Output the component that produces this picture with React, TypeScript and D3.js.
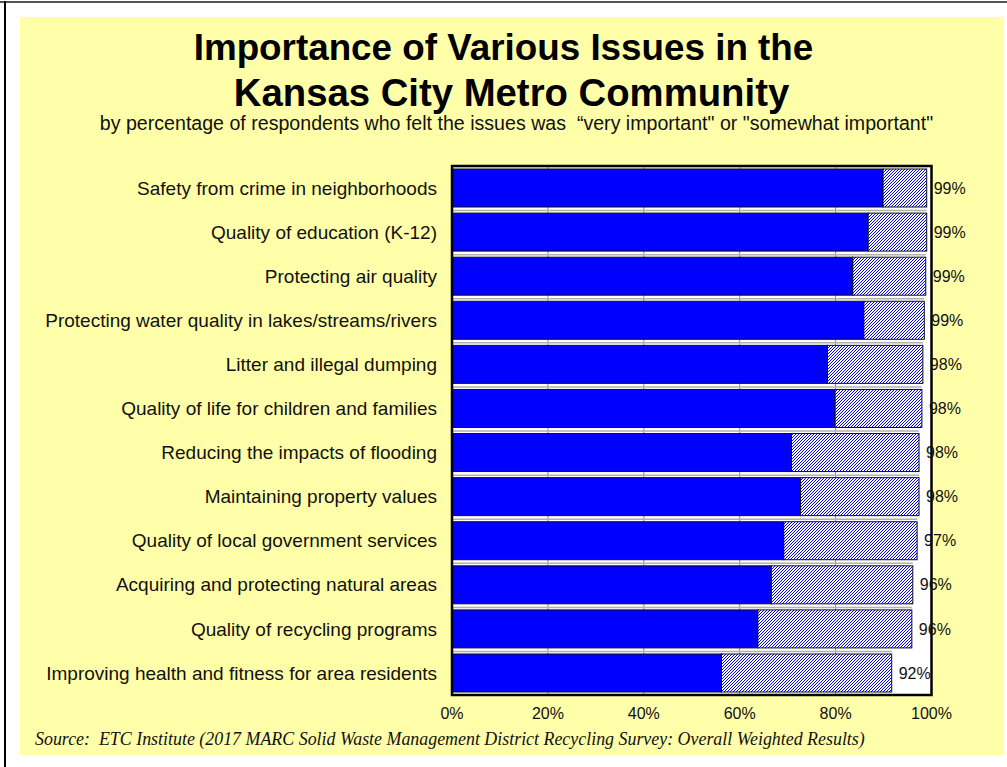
import React from "react";
import * as d3 from "d3";

const categories = [
  "Safety from crime in neighborhoods",
  "Quality of education (K-12)",
  "Protecting air quality",
  "Protecting water quality in lakes/streams/rivers",
  "Litter and illegal dumping",
  "Quality of life for children and families",
  "Reducing the impacts of flooding",
  "Maintaining property values",
  "Quality of local government services",
  "Acquiring and protecting natural areas",
  "Quality of recycling programs",
  "Improving health and fitness for area residents",
];
const veryImportant = [89.9, 86.8, 83.6, 85.9, 78.3, 79.9, 70.8, 72.7, 69.2, 66.6, 63.8, 56.2];
const somewhatImportant = [9.1, 12.2, 15.2, 12.6, 19.9, 18.1, 26.6, 24.7, 27.8, 29.5, 32.1, 35.5];
const totalLabels = [99, 99, 99, 99, 98, 98, 98, 98, 97, 96, 96, 92];
const xTicks = [0, 20, 40, 60, 80, 100];

const W = 1007;
const H = 767;
const plot = { left: 452, right: 931.5, top: 166, bottom: 695 };

export default function App() {
  const x = d3.scaleLinear().domain([0, 100]).range([plot.left, plot.right]);
  const y = d3
    .scaleBand<string>()
    .domain(categories)
    .range([plot.top, plot.bottom])
    .paddingInner(0.138)
    .paddingOuter(0.068);
  const bw = y.bandwidth();
  const font = "Arial, 'Liberation Sans', sans-serif";

  return (
    <svg
      width={W}
      height={H}
      style={{ position: "absolute", left: 0, top: 0, background: "#fff" }}
      fontFamily={font}
    >
      <defs>
        <pattern id="hatch" patternUnits="userSpaceOnUse" width={3} height={3}>
          <rect width={3} height={3} fill="#fff" />
          <g fill="#0000ff" shapeRendering="crispEdges">
            <rect x={0} y={2} width={1} height={1} />
            <rect x={1} y={1} width={1} height={1} />
            <rect x={2} y={0} width={1} height={1} />
          </g>
        </pattern>
      </defs>
      {/* outer frame */}
      <line x1={0} x2={W} y1={2} y2={2} stroke="#555" strokeWidth={2} />
      <line x1={5} x2={5} y1={1} y2={H} stroke="#000" strokeWidth={2} />
      {/* yellow panel */}
      <rect x={20} y={17} width={984} height={738} fill="#ffffaa" />

      {/* titles */}
      <text x={503.5} y={60} textAnchor="middle" fontWeight="bold" fontSize={36.8} fill="#000">
        Importance of Various Issues in the
      </text>
      <text x={511.5} y={106} textAnchor="middle" fontWeight="bold" fontSize={38.3} fill="#000">
        Kansas City Metro Community
      </text>
      <text x={516.5} y={130} textAnchor="middle" fontSize={19.6} fill="#111" style={{ whiteSpace: "pre" }}>
        {"by percentage of respondents who felt the issues was  \u201Cvery important\" or \"somewhat important\""}
      </text>

      {/* plot background */}
      <rect x={plot.left} y={plot.top} width={plot.right - plot.left} height={plot.bottom - plot.top} fill="#fff" />

      {/* gridlines */}
      {xTicks
        .filter((t) => t > 0 && t < 100)
        .map((t) => (
          <line key={t} x1={x(t)} x2={x(t)} y1={plot.top} y2={plot.bottom} stroke="#888" strokeWidth={1} />
        ))}

      {/* bars */}
      {categories.map((c, i) => {
        const y0 = y(c)!;
        const v = veryImportant[i];
        const s = somewhatImportant[i];
        return (
          <g key={c}>
            <line x1={x(0)} x2={x(v + s)} y1={y0 - 2.5} y2={y0 - 2.5} stroke="#b0b0b0" strokeWidth={1.5} />
            <rect x={x(0)} y={y0} width={x(v) - x(0)} height={bw} fill="#0000ff" stroke="#111" strokeWidth={1} />
            <rect x={x(v)} y={y0} width={x(v + s) - x(v)} height={bw} fill="url(#hatch)" stroke="#111" strokeWidth={1} />
          </g>
        );
      })}

      {/* plot border */}
      <rect
        x={plot.left}
        y={plot.top}
        width={plot.right - plot.left}
        height={plot.bottom - plot.top}
        fill="none"
        stroke="#000"
        strokeWidth={2.5}
      />

      {/* value labels */}
      {categories.map((c, i) => (
        <text
          key={c}
          x={x(veryImportant[i] + somewhatImportant[i]) + 7}
          y={y(c)! + bw / 2}
          dy="0.35em"
          fontSize={16}
          fill="#111"
        >
          {totalLabels[i] + "%"}
        </text>
      ))}

      {/* category labels */}
      {categories.map((c) => (
        <text key={c} x={437} y={y(c)! + bw / 2} dy="0.35em" textAnchor="end" fontSize={19} fill="#111">
          {c}
        </text>
      ))}

      {/* x tick labels */}
      {xTicks.map((t) => (
        <text key={t} x={x(t)} y={713} dy="0.35em" textAnchor="middle" fontSize={16} fill="#111">
          {t + "%"}
        </text>
      ))}

      {/* source */}
      <text
        x={35}
        y={745}
        fontFamily="'Times New Roman', 'Liberation Serif', serif"
        fontStyle="italic"
        fontSize={17.9}
        fill="#111"
        style={{ whiteSpace: "pre" }}
      >
        {"Source:  ETC Institute (2017 MARC Solid Waste Management District Recycling Survey: Overall Weighted Results)"}
      </text>
    </svg>
  );
}
